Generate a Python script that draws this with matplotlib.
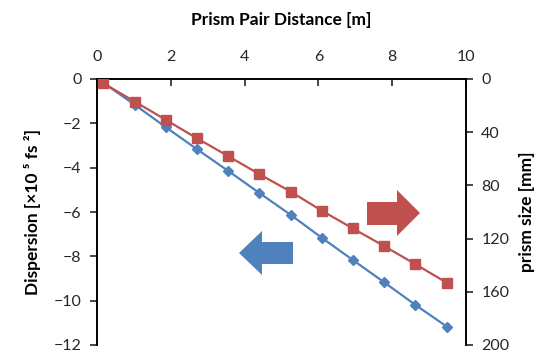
import matplotlib
matplotlib.use("Agg")
import matplotlib.pyplot as plt
from matplotlib.patches import Polygon

## Data
distance = [0.17, 1.03, 1.87, 2.71, 3.55, 4.39, 5.25, 6.09, 6.93, 7.78, 8.62, 9.48]   # m
dispersion = [-0.17, -1.17, -2.18, -3.17, -4.14, -5.13, -6.13, -7.16, -8.16, -9.17, -10.18, -11.17]  # x10^5 fs^2
prism_size = [3.2, 17.1, 30.8, 44.6, 57.9, 71.4, 84.7, 99.0, 112.3, 125.6, 139.1, 153.2]  # mm

x_ticks = [0, 2, 4, 6, 8, 10]
y_left_ticks = [0, -2, -4, -6, -8, -10, -12]
y_right_ticks = [0, 40, 80, 120, 160, 200]

blue = '#4F81BD'
red = '#C0504D'
txt = '#262626'

plt.rcParams['font.family'] = ['Lato', 'DejaVu Sans']
plt.rcParams['font.size'] = 11.5

W, H = 543, 357
fig = plt.figure(figsize=(W/100, H/100), dpi=100)
# axes box in pixels: left 97, right 466, top 79, bottom 345
ax = fig.add_axes([97/W, 1-345/H, (466-97)/W, (345-79)/H])
ax2 = ax.twinx()

ax.plot(distance, dispersion, color=blue, lw=1.6, marker='D', ms=5, zorder=3)
ax2.plot(distance, prism_size, color=red, lw=1.6, marker='s', ms=6.5, zorder=3)

ax.set_xlim(0, 10)
ax.set_ylim(-12, 0)
ax2.set_ylim(200, 0)
ax.set_xticks(x_ticks)
ax.set_yticks(y_left_ticks)
ax2.set_yticks(y_right_ticks)

ax.xaxis.tick_top()
ax.xaxis.set_label_position('top')
for a in (ax, ax2):
    a.spines['bottom'].set_visible(False)
    for s in ('top', 'left', 'right'):
        a.spines[s].set_linewidth(1.2)
ax.tick_params(axis='x', direction='in', length=5, width=1.2, pad=11, colors=txt)
ax.tick_params(axis='y', direction='out', length=5, width=1.2, pad=6, colors=txt)
ax2.tick_params(axis='y', direction='out', length=5, width=1.2, pad=6, colors=txt)

ax.set_xlabel('Prism Pair Distance [m]', fontweight='bold', fontsize=12.5, labelpad=18)
ax.set_ylabel('Dispersion [×10 ⁵ fs ²]', fontweight='bold', fontsize=12.5, labelpad=9)
ax2.set_ylabel('prism size [mm]', fontweight='bold', fontsize=12.5, labelpad=7)


def px(x, y):
    # pixel position in the figure -> axes fraction
    return ((x - 97) / (466 - 97), (345 - y) / (345 - 79))


red_arrow = [px(367, 202), px(397, 202), px(397, 190), px(420, 213),
             px(397, 236), px(397, 225), px(367, 225)]
blue_arrow = [px(293, 242), px(262, 242), px(262, 231), px(239, 253),
              px(262, 275), px(262, 264), px(293, 264)]
ax.add_patch(Polygon(red_arrow, closed=True, transform=ax.transAxes, color=red, lw=0))
ax.add_patch(Polygon(blue_arrow, closed=True, transform=ax.transAxes, color=blue, lw=0))

fig.savefig('out.png', dpi=100)
